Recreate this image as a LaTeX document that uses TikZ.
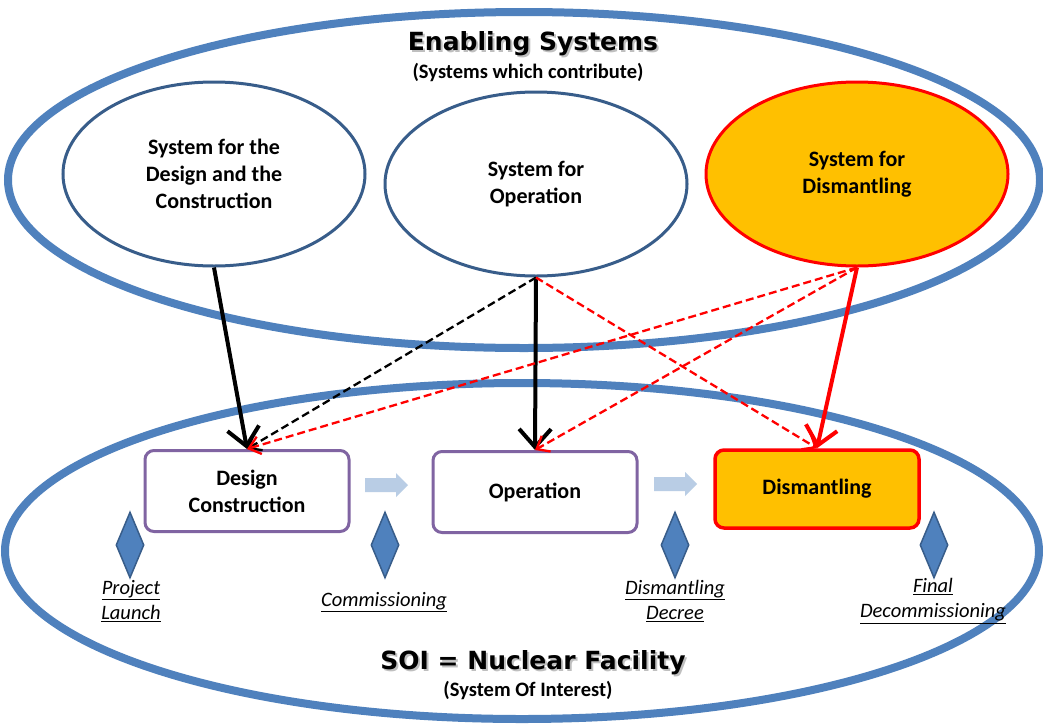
\documentclass[tikz,border=0pt]{standalone}
\usepackage{fontspec}
\setmainfont{Carlito}
\newfontfamily\titlefont{DejaVu Sans}
\usetikzlibrary{shapes.geometric,arrows.meta,positioning}

\definecolor{bandblue}{RGB}{79,129,189}
\definecolor{darkblue}{RGB}{56,93,138}
\definecolor{phasepurple}{RGB}{128,100,162}
\definecolor{gold}{RGB}{255,192,0}
\definecolor{lightarrow}{RGB}{185,205,229}

\tikzset{
  band/.style={draw=bandblue, line width=8pt},
  enabler/.style={ellipse, draw=darkblue, line width=3pt, fill=white, minimum width=302pt, minimum height=184pt, inner sep=0pt, align=center, font=\fontsize{22}{27}\selectfont\bfseries},
  phase/.style={rectangle, rounded corners=9pt, draw=phasepurple, line width=3pt, fill=white, minimum width=204pt, minimum height=81pt, align=center, font=\fontsize{22}{27}\selectfont\bfseries},
  milestone/.style={diamond, draw=darkblue, fill=bandblue, line width=1.5pt, minimum width=28pt, minimum height=66pt, inner sep=0pt},
  msname/.style={align=center, font=\fontsize{20.5}{25}\selectfont\itshape},
  bigtitle/.style={font=\fontsize{25}{30}\titlefont\bfseries},
  subtitle/.style={font=\fontsize{20.5}{24}\selectfont\bfseries},
  uses/.style={line width=4pt, -{Straight Barb[length=18pt,width=32pt]}},
  maybe/.style={line width=2.3pt, dash pattern=on 8pt off 4pt, -{Straight Barb[length=11pt,width=18pt]}},
}

\begin{document}
\begin{tikzpicture}[x=1pt,y=-1pt]
    \useasboundingbox[fill=white] (0,0) rectangle (1043,723);
    \draw[band] (524,180) ellipse [x radius=516, y radius=168];
    \draw[band] (522,551) ellipse [x radius=517, y radius=168];

    \node[enabler] (desSys) at (214,174) {System for the\\Design and the\\Construction};
    \node[enabler] (opSys) at (536,184) {System for\\Operation};
    \node[enabler, draw=red, fill=gold] (disSys) at (857,174) {System for\\Dismantling};

    \node[phase] (desPh) at (247,491) {Design\\Construction};
    \node[phase] (opPh) at (535,492) {Operation};
    \node[phase, draw=red, line width=3.5pt, fill=gold, minimum height=78pt] (disPh) at (817,489) {Dismantling};

    \foreach \ax/\ay in {365/485,654/484}
        \fill[lightarrow] (\ax,\ay-7) -- ++(31,0) -- ++(0,-5) -- ++(12,12) -- ++(-12,12) -- ++(0,-5) -- ++(-31,0) -- cycle;

    \node[milestone] (launch) at (130,545) {};
    \node[milestone] (commis) at (385,545) {};
    \node[milestone] (decree) at (675,545) {};
    \node[milestone] (final) at (934,545) {};
    \node[msname] at (131,601) {\underline{Project}\\\underline{Launch}};
    \node[msname] at (384,602) {\underline{Commissioning}};
    \node[msname] at (675,601) {\underline{Dismantling}\\\underline{Decree}};
    \node[msname] at (933,601) {\underline{Final}\\\underline{Decommissioning}};

    \draw[uses] (desSys.south) -- (desPh.north);
    \draw[uses] (opSys.south) -- (opPh.north);
    \draw[uses, red] (disSys.south) -- (disPh.north);
    \draw[maybe] (opSys.south) -- (desPh.north);
    \draw[maybe, red] (opSys.south) -- (disPh.north);
    \draw[maybe, red] (disSys.south) -- (desPh.north);
    \draw[maybe, red] (disSys.south) -- (opPh.north);

    \node[bigtitle, gray!50] (esShadow) at (535,46) {Enabling Systems};
    \node[bigtitle] (esTitle) at (533,44) {Enabling Systems};
    \node[subtitle] (esSub) at (528,73) {(Systems which contribute)};
    \node[bigtitle, gray!50] (soiShadow) at (535,665) {SOI = Nuclear Facility};
    \node[bigtitle] (soiTitle) at (533,663) {SOI = Nuclear Facility};
    \node[subtitle] (soiSub) at (528,690) {(System Of Interest)};
\end{tikzpicture}
\end{document}
